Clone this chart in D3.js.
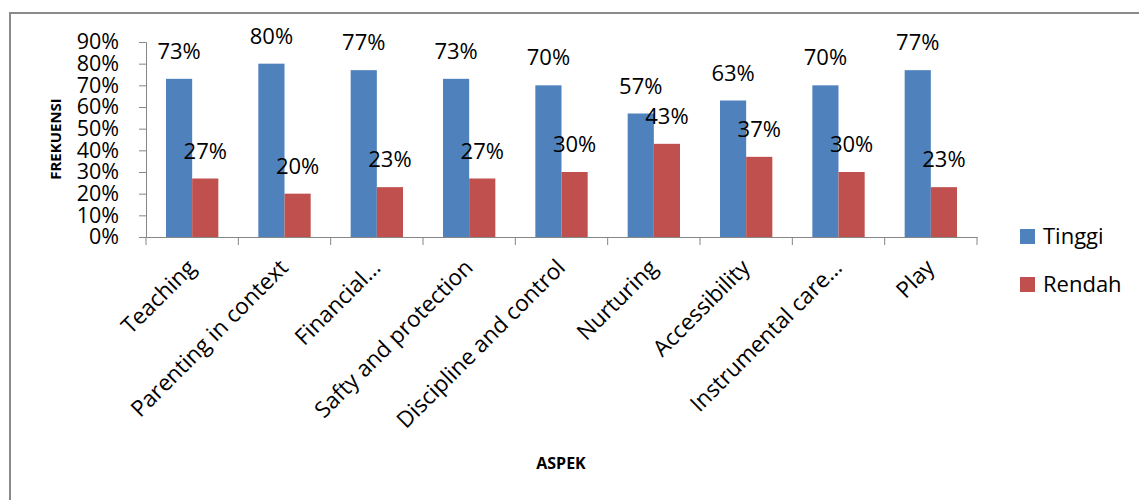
<!DOCTYPE html>
<html><head><meta charset="utf-8">
<script src="https://cdn.jsdelivr.net/npm/d3@7"></script>
<style>body{margin:0;background:#fff}svg{display:block}</style>
</head><body>
<svg id="c" width="1139" height="500"></svg>
<script>
const categories = ["Teaching","Parenting in context","Financial…","Safty and protection","Discipline and control","Nurturing","Accessibility","Instrumental care…","Play"];
const seriesNames = ["Tinggi","Rendah"];
const tinggi = [0.73,0.80,0.77,0.73,0.70,0.57,0.63,0.70,0.77];
const rendah = [0.27,0.20,0.23,0.27,0.30,0.43,0.37,0.30,0.23];
const yTicks = [0,0.1,0.2,0.3,0.4,0.5,0.6,0.7,0.8,0.9];
const colors = ["#4F81BD","#C0504D"];

const font = "'Open Sans', 'Liberation Sans', sans-serif";
const svg = d3.select("#c");
const axisColor = "#868686";

// outer border
svg.append("rect").attr("x",10).attr("y",13).attr("width",1200).attr("height",600)
  .attr("fill","none").attr("stroke","#8a8a8a").attr("stroke-width",2);

const x0 = 146, x1 = 977, yTop = 42, yBot = 237;
const x = d3.scaleBand().domain(categories).range([x0,x1]).padding(0);
const xs = d3.scaleBand().domain(seriesNames).range([20, x.bandwidth()-20]).padding(0);
const y = d3.scaleLinear().domain([0,0.9]).range([yBot,yTop]);

// y axis
const ya = svg.append("g").attr("transform",`translate(${x0},0)`)
  .call(d3.axisLeft(y).tickValues(yTicks).tickFormat(d3.format(".0%")).tickSizeOuter(0).tickSize(7).tickPadding(20));
ya.select(".domain").attr("stroke",axisColor);
ya.selectAll(".tick line").attr("stroke",axisColor);
ya.selectAll(".tick text").attr("font-family",font).attr("font-size",21.5).attr("fill","#000");

// bars
const data = categories.map((c,i)=>({c, vals:[tinggi[i],rendah[i]]}));
const g = svg.append("g");
data.forEach(d=>{
  d.vals.forEach((v,j)=>{
    const bx = x(d.c)+xs(seriesNames[j]);
    g.append("rect").attr("x",bx).attr("y",y(v)).attr("width",xs.bandwidth()).attr("height",yBot-y(v)).attr("fill",colors[j]);
    g.append("text").attr("x",bx+xs.bandwidth()/2).attr("y",y(v)-20).attr("text-anchor","middle")
      .attr("font-family",font).attr("font-size",22).attr("fill","#000").text(d3.format(".0%")(v));
  });
});

// x axis
const xa = svg.append("g").attr("transform",`translate(0,${yBot})`)
  .call(d3.axisBottom(x).tickSize(0).tickFormat(""));
xa.select(".domain").attr("stroke",axisColor);
xa.selectAll(".tick").remove();
[...categories.map(c=>x(c)), x1].forEach(px=>{
  xa.append("line").attr("x1",px).attr("x2",px).attr("y1",0).attr("y2",8).attr("stroke",axisColor);
});
categories.forEach(c=>{
  const cx = x(c)+x.bandwidth()/2;
  svg.append("text").attr("transform",`translate(${cx+5},${yBot+32}) rotate(-45)`)
    .attr("text-anchor","end").attr("font-family",font).attr("font-size",22.5).attr("fill","#000").text(c);
});

// axis titles
svg.append("text").attr("transform","translate(61,139) rotate(-90)").attr("text-anchor","middle")
  .attr("font-family",font).attr("font-weight","bold").attr("font-size",15).text("FREKUENSI");
svg.append("text").attr("x",561).attr("y",469).attr("text-anchor","middle")
  .attr("font-family",font).attr("font-weight","bold").attr("font-size",16).text("ASPEK");

// legend
seriesNames.forEach((s,j)=>{
  const ly = 229 + j*48;
  svg.append("rect").attr("x",1020).attr("y",ly).attr("width",15).attr("height",15).attr("fill",colors[j]);
  svg.append("text").attr("x",1043).attr("y",ly+15).attr("font-family",font).attr("font-size",22).attr("fill","#000").text(s);
});
</script>
</body></html>
